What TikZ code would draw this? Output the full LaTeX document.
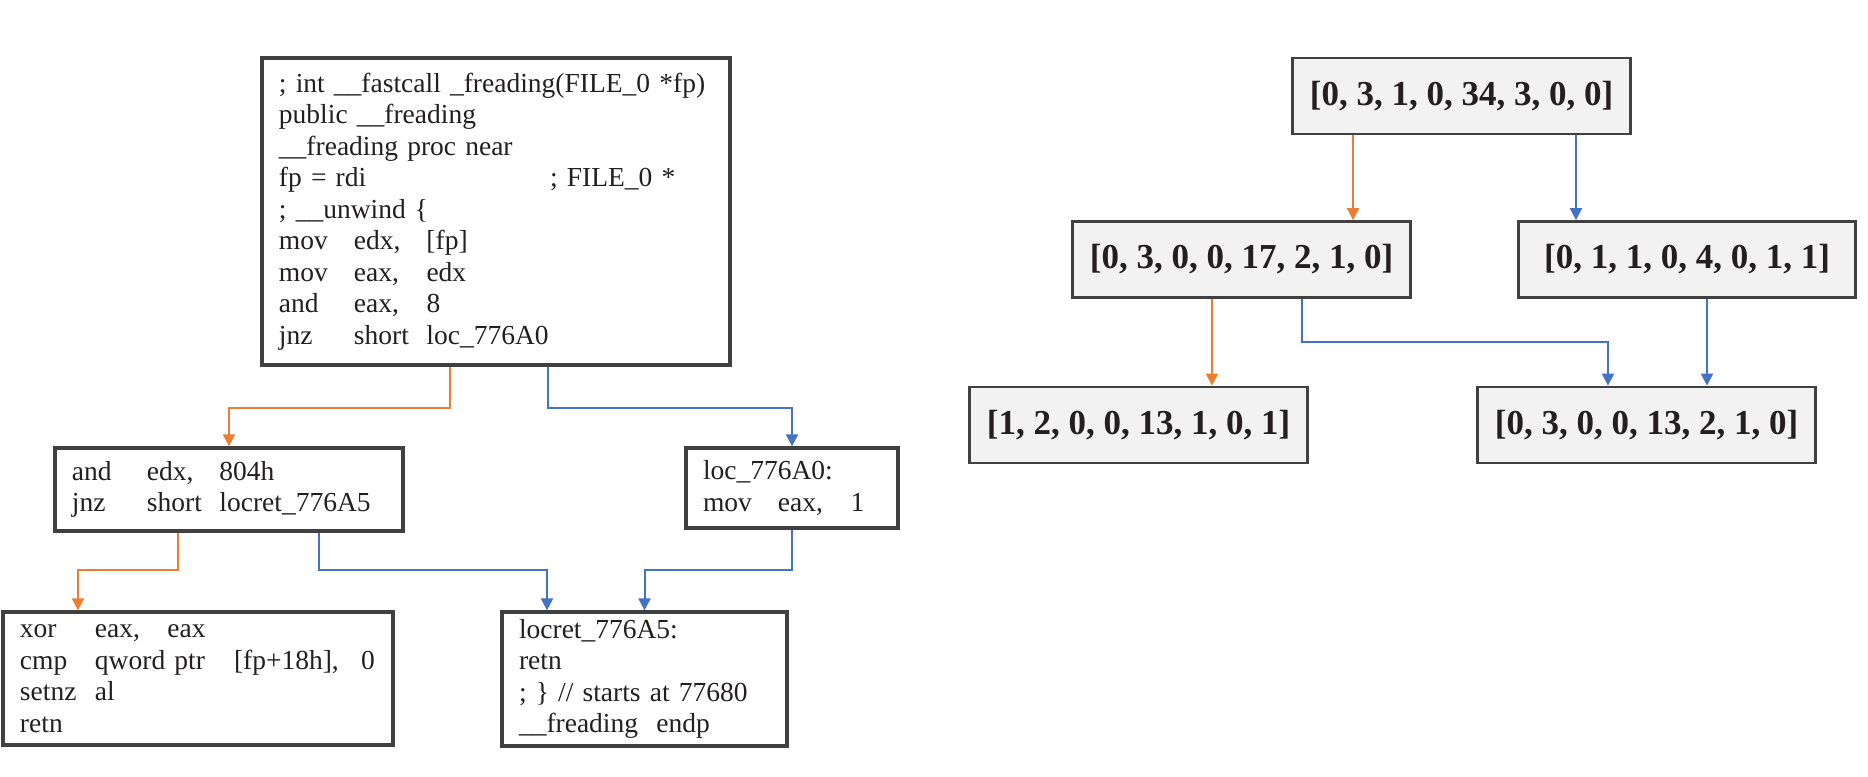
\documentclass[tikz,border=0pt]{standalone}
\usepackage{fontspec}
\setmainfont{Liberation Serif}
\usetikzlibrary{arrows.meta}
\definecolor{orng}{HTML}{ED7D31}
\definecolor{blu}{HTML}{4472C4}
\definecolor{frame}{HTML}{404040}
\definecolor{boxfill}{HTML}{F2F2F2}
\definecolor{ink}{HTML}{231F20}
\newcommand{\ins}[3]{\makebox[30pt][l]{#1}\makebox[29pt][l]{#2}#3}

\begin{document}
\begin{tikzpicture}[x=0.4pt, y=-0.4pt,
	code/.style={draw=frame, line width=1.3pt, inner xsep=6.8pt, inner ysep=0pt, align=left, text=ink, font=\fontsize{11}{12.6}\selectfont},
	vec/.style={draw=frame, fill=boxfill, line width=1.1pt, text=ink, font=\bfseries\fontsize{14}{16}\selectfont, minimum width=135pt, minimum height=30.4pt},
	yes/.style={orng, line width=0.8pt, -{Triangle[length=4.8pt, width=4.8pt]}},
	no/.style={blu, line width=0.8pt, -{Triangle[length=4.8pt, width=4.8pt]}}]
	\useasboundingbox (0,0) rectangle (1868,777);
	\node[code, text width=173.6pt, minimum height=122.8pt] (entry) at (496,211.5) {; int \_\_fastcall \_freading(FILE\_0 *fp)\\ public \_\_freading\\ \_\_freading proc near\\ \makebox[108.4pt][l]{fp = rdi}; FILE\_0 *\\ ; \_\_unwind \{\\ \ins{mov}{edx,}{[fp]}\\ \ins{mov}{eax,}{edx}\\ \ins{and}{eax,}{8}\\ \ins{jnz}{short}{loc\_776A0}};
	\node[code, text width=125.6pt, minimum height=33.2pt] (test) at (229,489.5) {\ins{and}{edx,}{804h}\\ \ins{jnz}{short}{locret\_776A5}};
	\node[code, text width=71.2pt, minimum height=32pt] (loc) at (792,488) {loc\_776A0:\\ \ins{mov}{eax,}{1}};
	\node[code, text width=142.4pt, minimum height=53.2pt] (xorb) at (198,678.5) {\ins{xor}{eax,}{eax}\\ \makebox[30pt][l]{cmp}\makebox[55.6pt][l]{qword ptr}\makebox[50.8pt][l]{[fp+18h],}0\\ \makebox[30pt][l]{setnz}al\\ retn};
	\node[code, text width=100.4pt, minimum height=53.6pt] (ret) at (644.5,679) {locret\_776A5:\\ retn\\ ; \} // starts at 77680\\ \_\_freading\ \ endp};

	\draw[yes] (entry.south -| 450,0) -- (450,408) -| (test.north);
	\draw[no] (entry.south -| 548,0) -- (548,408) -| (loc.north);
	\draw[yes] (test.south -| 178,0) -- (178,570) -| (xorb.north -| 78,0);
	\draw[no] (test.south -| 319,0) -- (319,570) -| (ret.north -| 547,0);
	\draw[no] (loc.south) -- (792,570) -| (ret.north);

	\node[vec] (v0) at (1461.5,96) {[0, 3, 1, 0, 34, 3, 0, 0]};
	\node[vec] (v1) at (1241.5,259.5) {[0, 3, 0, 0, 17, 2, 1, 0]};
	\node[vec] (v2) at (1687,259.5) {[0, 1, 1, 0, 4, 0, 1, 1]};
	\node[vec] (v3) at (1138.5,425) {[1, 2, 0, 0, 13, 1, 0, 1]};
	\node[vec] (v4) at (1646.5,425) {[0, 3, 0, 0, 13, 2, 1, 0]};

	\draw[yes] (v0.south -| 1353,0) -- (v1.north -| 1353,0);
	\draw[no] (v0.south -| 1576,0) -- (v2.north -| 1576,0);
	\draw[yes] (v1.south -| 1212,0) -- (v3.north -| 1212,0);
	\draw[no] (v1.south -| 1302,0) -- (1302,342) -| (v4.north -| 1608,0);
	\draw[no] (v2.south -| 1707,0) -- (v4.north -| 1707,0);
\end{tikzpicture}
\end{document}
